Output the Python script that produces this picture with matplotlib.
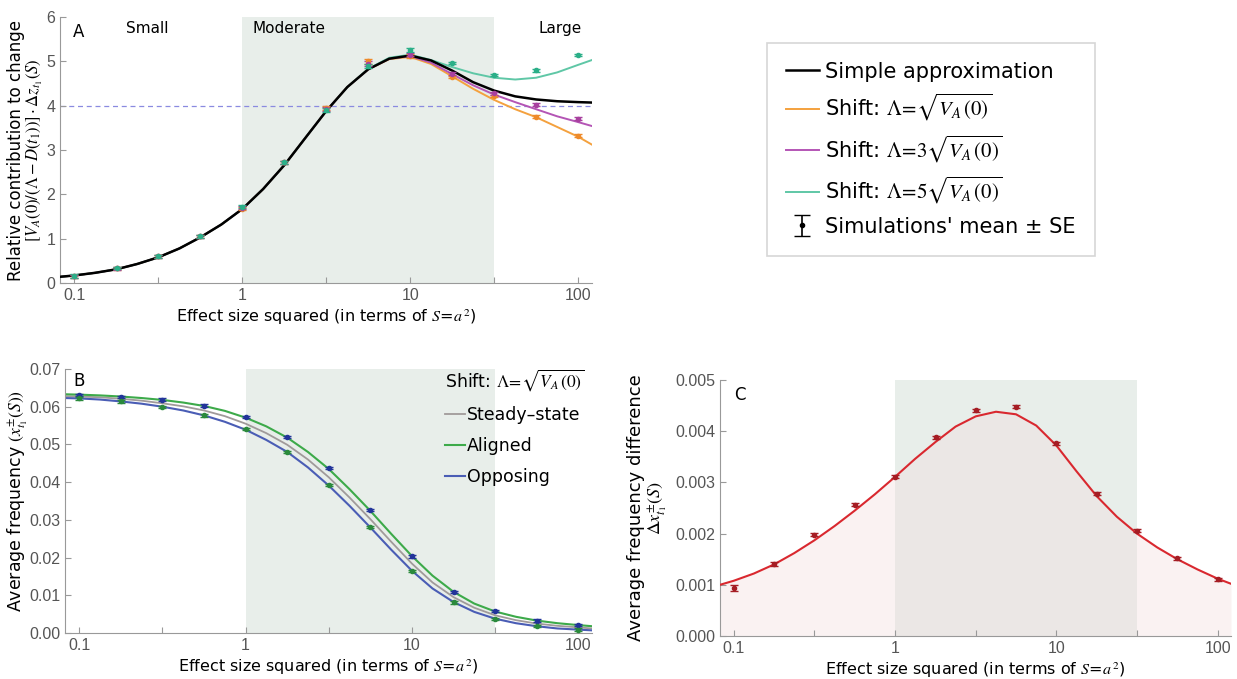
import numpy as np
import matplotlib.pyplot as plt
from matplotlib.ticker import FixedLocator, NullLocator, FixedFormatter

plt.rcParams['font.family'] = ['DejaVu Sans']
plt.rcParams['mathtext.fontset'] = 'stix'

# effect sizes of the simulations
S_pts = [0.1, 0.178, 0.316, 0.562, 1, 1.78, 3.16, 5.62, 10, 17.8, 31.6, 56.2, 100]
# grid used for the analytic curves
S_line = [0.082, 0.1, 0.133, 0.178, 0.237, 0.316, 0.422, 0.562, 0.75, 1, 1.33, 1.78, 2.37,
          3.16, 4.22, 5.62, 7.5, 10, 13.3, 17.8, 23.7, 31.6, 42.2, 56.2, 75, 100, 121]

# ---- panel A
A_simple = [0.14, 0.17, 0.23, 0.31, 0.43, 0.58, 0.78, 1.03, 1.32, 1.67, 2.12, 2.66, 3.27,
            3.88, 4.42, 4.82, 5.06, 5.13, 5.02, 4.79, 4.53, 4.34, 4.21, 4.14, 4.1, 4.08, 4.07]
A_shift1 = [0.14, 0.17, 0.23, 0.31, 0.43, 0.58, 0.78, 1.03, 1.32, 1.67, 2.12, 2.66, 3.27,
            3.88, 4.42, 4.82, 5.05, 5.1, 4.94, 4.66, 4.38, 4.13, 3.92, 3.74, 3.52, 3.3, 3.12]
A_shift3 = [0.14, 0.17, 0.23, 0.31, 0.43, 0.58, 0.78, 1.03, 1.32, 1.67, 2.12, 2.66, 3.27,
            3.88, 4.42, 4.82, 5.06, 5.12, 4.97, 4.71, 4.46, 4.25, 4.08, 3.92, 3.76, 3.63, 3.54]
A_shift5 = [0.14, 0.17, 0.23, 0.31, 0.43, 0.58, 0.78, 1.03, 1.32, 1.67, 2.12, 2.66, 3.27,
            3.88, 4.42, 4.83, 5.08, 5.15, 5.03, 4.87, 4.73, 4.63, 4.59, 4.63, 4.75, 4.92, 5.03]
A_pts1 = [0.15, 0.33, 0.6, 1.05, 1.68, 2.72, 3.95, 5.0, 5.12, 4.65, 4.22, 3.75, 3.32]
A_pts3 = [0.15, 0.33, 0.6, 1.05, 1.7, 2.72, 3.93, 4.95, 5.15, 4.72, 4.28, 4.02, 3.71]
A_pts5 = [0.16, 0.34, 0.6, 1.05, 1.72, 2.72, 3.9, 4.9, 5.25, 4.96, 4.69, 4.8, 5.14]
A_se = [0.04, 0.03, 0.03, 0.03, 0.03, 0.03, 0.04, 0.05, 0.04, 0.03, 0.03, 0.03, 0.03]

# ---- panel B
B_aligned = [0.0633, 0.0632, 0.0630, 0.0627, 0.0623, 0.0618, 0.0611, 0.0602, 0.0589, 0.0571,
             0.0548, 0.0518, 0.0480, 0.0435, 0.0381, 0.0324, 0.0263, 0.0204, 0.0152, 0.0109,
             0.0078, 0.0057, 0.0043, 0.0033, 0.0026, 0.0021, 0.0018]
B_steady = [0.0628, 0.0627, 0.0625, 0.0621, 0.0616, 0.0609, 0.0601, 0.0590, 0.0575, 0.0555,
            0.0530, 0.0499, 0.0460, 0.0413, 0.0359, 0.0302, 0.0242, 0.0184, 0.0134, 0.0095,
            0.0067, 0.0047, 0.0034, 0.0025, 0.0019, 0.0015, 0.0012]
B_opposing = [0.0623, 0.0622, 0.0619, 0.0614, 0.0608, 0.0600, 0.0590, 0.0577, 0.0560, 0.0539,
              0.0512, 0.0480, 0.0439, 0.0391, 0.0337, 0.0280, 0.0221, 0.0165, 0.0118, 0.0082,
              0.0056, 0.0038, 0.0026, 0.0018, 0.0012, 0.0009, 0.0007]
B_pts_al = [0.0632, 0.0626, 0.0619, 0.0603, 0.0572, 0.0520, 0.0437, 0.0327, 0.0203, 0.0108,
            0.0058, 0.0033, 0.0021]
B_pts_op = [0.0622, 0.0614, 0.0600, 0.0577, 0.0540, 0.0480, 0.0393, 0.0282, 0.0164, 0.0081,
            0.0038, 0.0018, 0.0009]
B_se = [0.0003] * 13

# ---- panel C
C_line = [0.00100, 0.00108, 0.00122, 0.00140, 0.00162, 0.00187, 0.00215, 0.00245, 0.00277,
          0.00311, 0.00346, 0.00379, 0.00409, 0.00429, 0.00438, 0.00433, 0.00411, 0.00372,
          0.00322, 0.00273, 0.00233, 0.00200, 0.00173, 0.00150, 0.00130, 0.00112, 0.00102]
C_pts = [0.00093, 0.00141, 0.00198, 0.00256, 0.00311, 0.00388, 0.00441, 0.00448, 0.00376,
         0.00278, 0.00206, 0.00152, 0.00111]
C_se = [0.00006, 0.00004, 0.00003, 0.00003, 0.00003, 0.00003, 0.00003, 0.00003, 0.00003,
        0.00003, 0.00003, 0.00003, 0.00003]

shade = '#E8EEEA'
xlab = 'Effect size squared (in terms of $S$=$a^{\\,2}$)'
sq = '$\\Lambda\\!=\\!$'

fig = plt.figure(figsize=(12.37, 6.79), dpi=100)
axA = fig.add_axes([60/1237, 1-283/679, 532/1237, 266/679])
axB = fig.add_axes([65/1237, 1-633/679, 527/1237, 264/679])
axC = fig.add_axes([720/1237, 1-636/679, 511/1237, 256/679])


def style(ax):
    ax.set_xscale('log')
    ax.set_xlim(0.082, 121)
    ax.axvspan(1, 31.6, color=shade, lw=0, zorder=0)
    for s in ['top', 'right']:
        ax.spines[s].set_visible(False)
    for s in ['left', 'bottom']:
        ax.spines[s].set_color('#999999')
    ax.xaxis.set_major_locator(FixedLocator([0.1, 0.316, 1, 3.16, 10, 31.6, 100]))
    ax.xaxis.set_major_formatter(FixedFormatter(['0.1', '', '1', '', '10', '', '100']))
    ax.xaxis.set_minor_locator(NullLocator())
    ax.tick_params(direction='in', colors='#999999', labelcolor='#555555', labelsize=11.5, length=4)
    ax.set_xlabel(xlab, fontsize=11.5, labelpad=3)


def tickfont(ax):
    for t in ax.get_xticklabels() + ax.get_yticklabels():
        t.set_fontfamily('Liberation Sans')


# ---------- A
style(axA)
axA.set_ylim(0, 6)
axA.axhline(4, color='#8A8AE0', lw=0.9, ls=(0, (4, 3)), zorder=1)
axA.plot(S_line, A_shift1, color='#F4A13E', lw=1.4, zorder=2)
axA.plot(S_line, A_shift3, color='#B455B5', lw=1.4, zorder=2)
axA.plot(S_line, A_shift5, color='#5FC7A6', lw=1.4, zorder=2)
axA.plot(S_line, A_simple, color='black', lw=1.8, zorder=3)
axA.errorbar(S_pts, A_pts1, yerr=A_se, fmt='o', color='#EE8A2A', ms=3, capsize=3, lw=1, zorder=4)
axA.errorbar(S_pts, A_pts3, yerr=A_se, fmt='o', color='#A8409F', ms=3, capsize=3, lw=1, zorder=4)
axA.errorbar(S_pts, A_pts5, yerr=A_se, fmt='o', color='#2BAF88', ms=3, capsize=3, lw=1, zorder=4)
axA.set_ylabel('Relative contribution to change\n'
               '$[V_A(0)/(\\Lambda-D(t_1))]\\cdot\\Delta z_{t_1}(S)$', fontsize=12,
               linespacing=1.0)
axA.yaxis.set_label_coords(-0.028, 0.5)
axA.text(0.098, 5.55, 'A', fontsize=12)
axA.text(0.27, 5.65, 'Small', fontsize=11, ha='center')
axA.text(1.9, 5.65, 'Moderate', fontsize=11, ha='center')
axA.text(78, 5.65, 'Large', fontsize=11, ha='center')
tickfont(axA)

# legend handles for panel A
hA = [plt.Line2D([], [], color='black', lw=1.8),
      plt.Line2D([], [], color='#F4A13E', lw=1.4),
      plt.Line2D([], [], color='#B455B5', lw=1.4),
      plt.Line2D([], [], color='#5FC7A6', lw=1.4),
      axA.errorbar([np.nan], [np.nan], yerr=[1], fmt='o', color='black', ms=3, capsize=6, lw=1.2)]
lA = ['Simple approximation',
      'Shift: ' + sq + '$\\sqrt{V_A\\,(0)}$',
      'Shift: ' + sq + '$3\\sqrt{V_A\\,(0)}$',
      'Shift: ' + sq + '$5\\sqrt{V_A\\,(0)}$',
      "Simulations' mean \u00b1 SE"]
leg = fig.legend(hA, lA, loc='upper left', bbox_to_anchor=(767/1237, 1-43/679), fontsize=15,
                 frameon=True, fancybox=False, edgecolor='#CCCCCC', handlelength=1.6,
                 handletextpad=0.3, labelspacing=0.5, borderpad=0.9, borderaxespad=0)
leg.get_frame().set_linewidth(1.2)

# ---------- B
style(axB)
axB.set_ylim(0, 0.07)
axB.set_yticks([0, 0.01, 0.02, 0.03, 0.04, 0.05, 0.06, 0.07])
axB.set_yticklabels(['0.00', '0.01', '0.02', '0.03', '0.04', '0.05', '0.06', '0.07'])
axB.plot(S_line, B_steady, color='#A09A9A', lw=1.3, label='Steady\u2013state')
axB.plot(S_line, B_aligned, color='#3DAA4A', lw=1.5, label='Aligned')
axB.plot(S_line, B_opposing, color='#4A5DB5', lw=1.5, label='Opposing')
axB.errorbar(S_pts, B_pts_al, yerr=B_se, fmt='o', color='#22349A', ms=3, capsize=3, lw=1, zorder=4)
axB.errorbar(S_pts, B_pts_op, yerr=B_se, fmt='o', color='#2A8A3C', ms=3, capsize=3, lw=1, zorder=4)
axB.set_ylabel('Average frequency $(x^{\\pm}_{t_1}(S))$', fontsize=12.5)
axB.yaxis.set_label_coords(-0.066, 0.5)
axB.text(0.092, 0.0655, 'B', fontsize=12)
legB = axB.legend(loc='upper right', bbox_to_anchor=(1.015, 1.065), fontsize=12.5, frameon=False,
                  title='Shift: ' + sq + '$\\sqrt{V_A\\,(0)}$', title_fontsize=12.5,
                  handlelength=1.2, handletextpad=0.1, labelspacing=0.75)
legB._legend_box.align = 'left'
tickfont(axB)

# ---------- C
style(axC)
axC.set_ylim(0, 0.005)
axC.set_yticks([0, 0.001, 0.002, 0.003, 0.004, 0.005])
axC.set_yticklabels(['0.000', '0.001', '0.002', '0.003', '0.004', '0.005'])
axC.fill_between(S_line, 0, C_line, color='#F3DCDC', alpha=0.35, lw=0, zorder=1)
axC.plot(S_line, C_line, color='#D9282F', lw=1.5, zorder=3)
axC.errorbar(S_pts, C_pts, yerr=C_se, fmt='o', color='#A51D24', ms=3, capsize=3, lw=1, zorder=4)
axC.set_ylabel('Average frequency difference\n$\\Delta x^{\\pm}_{t_1}(S)$', fontsize=13,
               linespacing=1.0)
axC.yaxis.set_label_coords(-0.10, 0.5)
axC.text(0.1, 0.0046, 'C', fontsize=12)
tickfont(axC)

fig.savefig('out.png', dpi=100)
